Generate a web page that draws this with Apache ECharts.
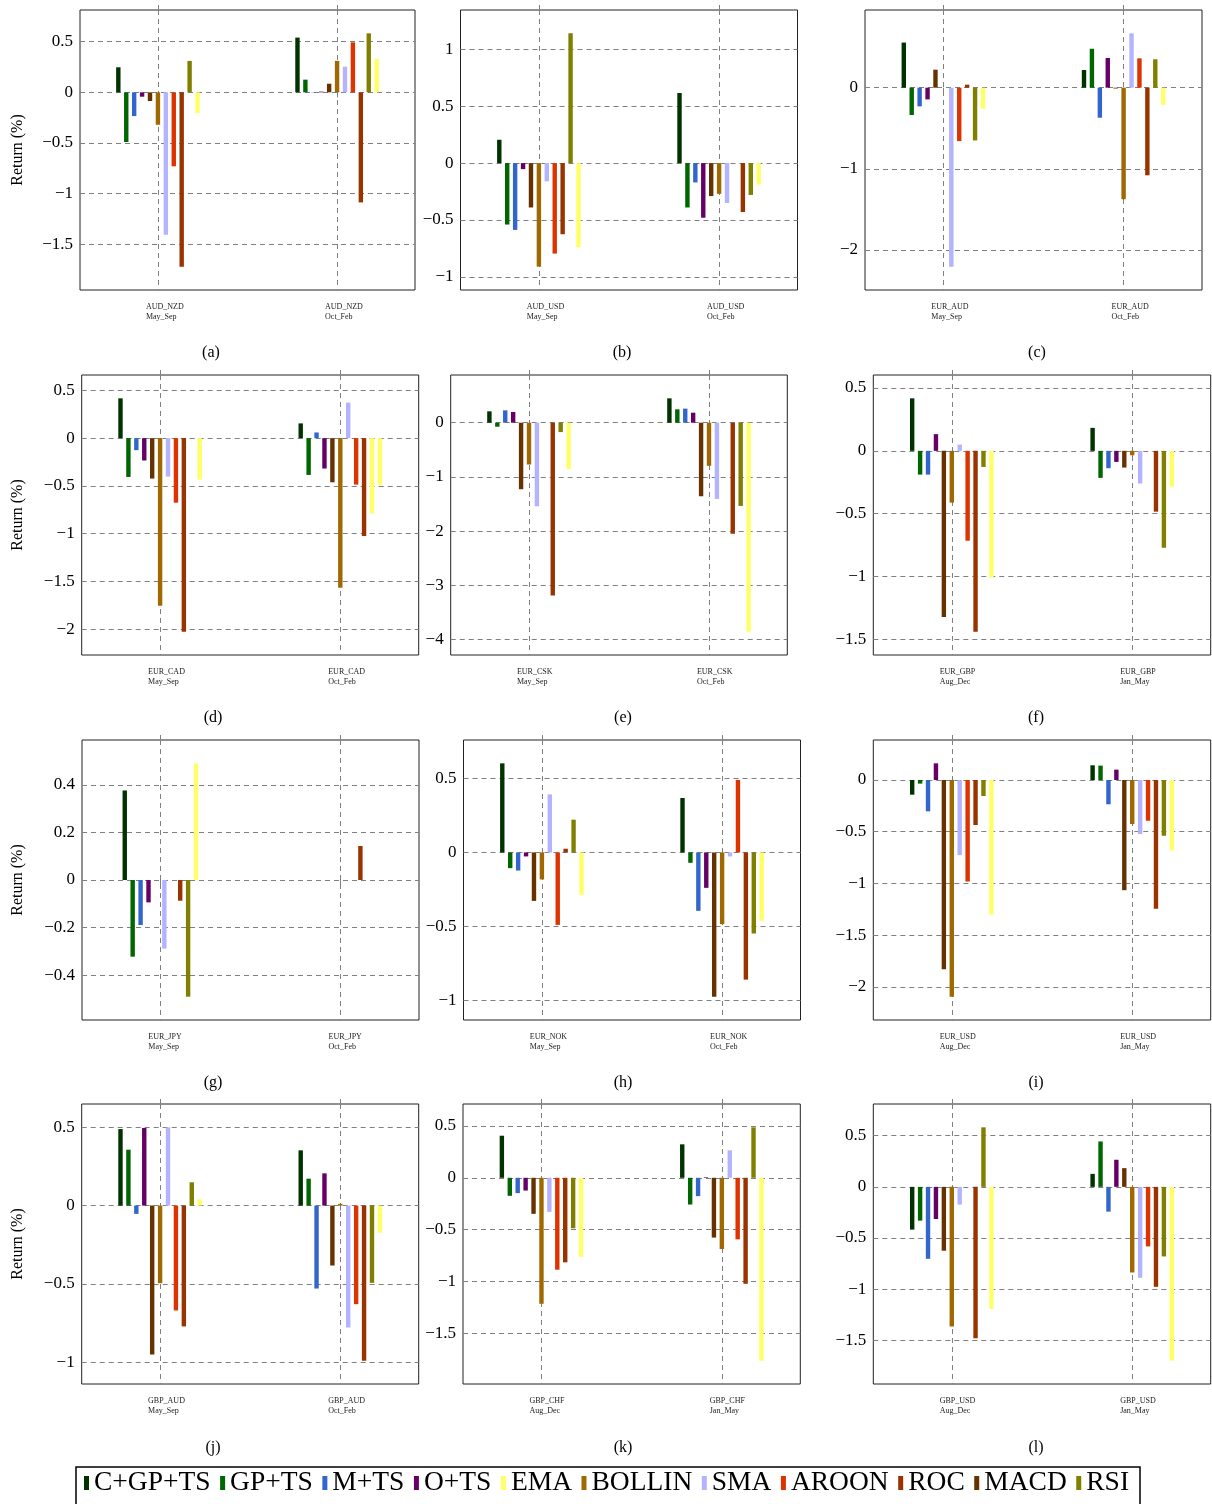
<!DOCTYPE html>
<html><head><meta charset="utf-8">
<script src="https://cdn.jsdelivr.net/npm/echarts@6/dist/echarts.min.js"></script>
<style>html,body{margin:0;padding:0;background:#fff}#c{width:1212px;height:1504px}</style>
</head><body><div id="c"></div><script>
// ---------- data ----------
const pairs = ['AUD_NZD','AUD_USD','EUR_AUD','EUR_CAD','EUR_CSK','EUR_GBP','EUR_JPY','EUR_NOK','EUR_USD','GBP_AUD','GBP_CHF','GBP_USD'];
const periods = [
  ['May_Sep','Oct_Feb'],['May_Sep','Oct_Feb'],['May_Sep','Oct_Feb'],
  ['May_Sep','Oct_Feb'],['May_Sep','Oct_Feb'],['Aug_Dec','Jan_May'],
  ['May_Sep','Oct_Feb'],['May_Sep','Oct_Feb'],['Aug_Dec','Jan_May'],
  ['May_Sep','Oct_Feb'],['Aug_Dec','Jan_May'],['Aug_Dec','Jan_May']
];
const captions = ['(a)','(b)','(c)','(d)','(e)','(f)','(g)','(h)','(i)','(j)','(k)','(l)'];
const yTicks = [
  [0.5,0,-0.5,-1,-1.5],[1,0.5,0,-0.5,-1],[0,-1,-2],
  [0.5,0,-0.5,-1,-1.5,-2],[0,-1,-2,-3,-4],[0.5,0,-0.5,-1,-1.5],
  [0.4,0.2,0,-0.2,-0.4],[0.5,0,-0.5,-1],[0,-0.5,-1,-1.5,-2],
  [0.5,0,-0.5,-1],[0.5,0,-0.5,-1,-1.5],[0.5,0,-0.5,-1,-1.5]
];
// bar order inside each group
const barOrder = ['C+GP+TS','GP+TS','M+TS','O+TS','MACD','BOLLIN','SMA','AROON','ROC','RSI','EMA'];
// legend order
const legendOrder = ['C+GP+TS','GP+TS','M+TS','O+TS','EMA','BOLLIN','SMA','AROON','ROC','MACD','RSI'];

// values per panel (a..l): [first period, second period]
const cgpts = [[0.247,0.54],[0.205,0.616],[0.556,0.218],[0.416,0.154],[0.21,0.45],[0.418,0.183],[0.376,0],[0.601,0.367],[-0.142,0.142],[0.489,0.353],[0.406,0.323],[-0.418,0.127]];
const gpts  = [[-0.49,0.125],[-0.54,-0.39],[-0.337,0.48],[-0.406,-0.385],[-0.074,0.247],[-0.189,-0.215],[-0.322,0],[-0.106,-0.07],[-0.035,0.139],[0.357,0.172],[-0.174,-0.258],[-0.33,0.444]];
const mts   = [[-0.234,-0.003],[-0.587,-0.17],[-0.23,-0.37],[-0.126,0.059],[0.228,0.26],[-0.189,-0.138],[-0.189,0],[-0.122,-0.394],[-0.303,-0.235],[-0.053,-0.53],[-0.148,-0.177],[-0.703,-0.242]];
const ots   = [[-0.043,0.007],[-0.053,-0.48],[-0.144,0.366],[-0.234,-0.318],[0.198,0.185],[0.133,-0.088],[-0.094,0],[-0.027,-0.239],[0.161,0.1],[0.496,0.206],[-0.123,0.006],[-0.314,0.265]];
const macd  = [[-0.086,0.085],[-0.39,-0.29],[0.222,-0.01],[-0.423,-0.462],[-1.228,-1.358],[-1.322,-0.133],[null,null],[-0.327,-0.973],[-1.829,-1.065],[-0.951,-0.383],[-0.348,-0.577],[-0.624,0.183]];
const bollin= [[-0.32,0.31],[-0.91,-0.27],[0,-1.375],[-1.752,-1.566],[-0.772,-0.796],[-0.412,-0.035],[0,0],[-0.182,-0.484],[-2.094,-0.426],[-0.496,0.011],[-1.216,-0.687],[-1.366,-0.837]];
const sma   = [[-1.405,0.253],[-0.16,-0.35],[-2.206,0.67],[-0.402,0.371],[-1.543,-1.407],[0.05,-0.26],[-0.288,0],[0.392,-0.027],[-0.726,-0.523],[0.5,-0.779],[-0.329,0.265],[-0.173,-0.889]];
const aroon = [[-0.73,0.493],[-0.795,0],[-0.658,0.362],[-0.675,-0.486],[0,0],[-0.715,0],[0,0],[-0.489,0.489],[-0.981,-0.394],[-0.67,-0.63],[-0.887,-0.594],[0,-0.582]];
const roc   = [[-1.72,-1.086],[-0.625,-0.43],[0.037,-1.08],[-2.024,-1.024],[-3.19,-2.05],[-1.439,-0.484],[-0.087,0.143],[0.025,-0.858],[-0.435,-1.245],[-0.772,-0.991],[-0.816,-1.023],[-1.48,-0.977]];
const rsi   = [[0.31,0.582],[1.14,-0.28],[-0.65,0.35],[0,-0.787],[-0.173,-1.537],[-0.128,-0.771],[-0.49,0],[0.221,-0.547],[-0.155,-0.539],[0.149,-0.494],[-0.487,0.487],[0.582,-0.68]];
const ema   = [[-0.204,0.332],[-0.74,-0.19],[-0.26,-0.214],[-0.434,-0.493],[-0.858,-3.858],[-1.008,-0.285],[0.49,0],[-0.286,-0.462],[-1.303,-0.681],[0.04,-0.174],[-0.765,-1.765],[-1.193,-1.699]];

const valuesByName = {'C+GP+TS':cgpts,'GP+TS':gpts,'M+TS':mts,'O+TS':ots,'MACD':macd,'BOLLIN':bollin,'SMA':sma,'AROON':aroon,'ROC':roc,'RSI':rsi,'EMA':ema};

// ---------- styles / layout ----------
const colors = {'C+GP+TS':'#003300','GP+TS':'#006600','M+TS':'#3366cc','O+TS':'#660066','MACD':'#663300','BOLLIN':'#a06800','SMA':'#b3b3ff','AROON':'#dd3300','ROC':'#993300','RSI':'#808000','EMA':'#ffff66'};
// one bar drawn in another colour in the original figure (panel d, second group, RSI slot)
const colorOverrides = [{panel:3, name:'RSI', idx:1, color:'#ffff66'}];
const boxes = [
  [80,10,335,280],[460.5,10,337,280],[865,10,337,280],
  [81.7,375,337,280],[450.7,375,336.6,280],[873.3,375,337.4,280],
  [82,740,337,280],[463.5,740,337,280],[873.3,740,337.4,280],
  [81.7,1104,337,280],[463,1104,337.3,280],[873.3,1104,337.4,280]
];
const captionPos = [[211,353],[622,353],[1037,353],[213,718],[623,718],[1036,718],[213,1083],[623,1083],[1036,1083],[213,1448],[623,1448],[1036,1448]];
const FONT = '"Liberation Serif","Times New Roman",serif';
const XMIN = -0.435, XMAX = 1.435;
const LABEL_SHIFT = 0.067; // tick labels start slightly left of the category line, left aligned
const fmtNum = v => String(v).replace('-', '\u2212');

const grids = [], xAxes = [], yAxes = [], series = [], graphics = [];
boxes.forEach((b, p) => {
  grids.push({left:b[0], top:b[1], width:b[2], height:b[3], show:true, borderColor:'#222', borderWidth:1, backgroundColor:'transparent'});
  // y range like pgfplots: data range enlarged by 10%
  let lo = 0, hi = 0;
  barOrder.forEach(n => valuesByName[n][p].forEach(v => { if (v != null) { lo = Math.min(lo, v); hi = Math.max(hi, v); } }));
  const R = hi - lo;
  yAxes.push({
    type:'value', gridIndex:p, min: lo - 0.1*R, max: hi + 0.1*R,
    axisLine:{show:false},
    axisTick:{show:false, customValues: yTicks[p]},
    axisLabel:{customValues: yTicks[p], formatter: fmtNum, fontFamily: FONT, fontSize:17, color:'#000', margin:7},
    splitLine:{show:true, lineStyle:{type:[5,4], color:'#808080', width:1}}
  });
  xAxes.push({
    type:'value', gridIndex:p, position:'bottom', min:XMIN, max:XMAX,
    axisLine:{show:false},
    axisTick:{show:true, inside:false, length:7, customValues:[0,1], lineStyle:{type:[5,4], color:'#808080'}},
    axisLabel:{customValues:[-LABEL_SHIFT, 1-LABEL_SHIFT], align:'left',
      formatter: v => pairs[p] + '\n' + periods[p][Math.round(v + LABEL_SHIFT)],
      fontFamily: FONT, fontSize:8, lineHeight:10, color:'#222', margin:12},
    splitLine:{show:true, lineStyle:{type:[5,4], color:'#808080', width:1}}
  });
  xAxes.push({
    type:'value', gridIndex:p, position:'top', min:XMIN, max:XMAX,
    axisLine:{show:false},
    axisTick:{show:true, inside:false, length:6, customValues:[0,1], lineStyle:{type:[5,4], color:'#808080'}},
    axisLabel:{show:false}, splitLine:{show:false}
  });
  barOrder.forEach(n => {
    const vals = valuesByName[n][p];
    if (vals.every(v => v == null)) return; // series not plotted in this panel
    const data = vals.map((v, i) => {
      const o = colorOverrides.find(c => c.panel === p && c.name === n && c.idx === i);
      const d = {value:[i, v]};
      if (o) d.itemStyle = {color:o.color};
      return d;
    });
    series.push({
      name:n, type:'bar', xAxisIndex:2*p, yAxisIndex:p, data,
      barWidth:4.4, barGap:'80%', itemStyle:{color:colors[n]}, animation:false, silent:true
    });
  });
  graphics.push({type:'text', x:captionPos[p][0], y:captionPos[p][1], style:{text:captions[p], font:'16px ' + FONT, fill:'#000', textAlign:'center', textVerticalAlign:'middle'}});
  if (p % 3 === 0) {
    graphics.push({type:'text', x:18, y:b[1] + b[3]/2, rotation:Math.PI/2, style:{text:'Return (%)', font:'16px ' + FONT, fill:'#000', textAlign:'center', textVerticalAlign:'middle'}});
  }
});
graphics.push({type:'rect', shape:{x:76, y:1467, width:1064, height:60}, style:{fill:'none', stroke:'#000', lineWidth:1.5}});

const chart = echarts.init(document.getElementById('c'), null, {renderer:'canvas'});
chart.setOption({
  animation:false,
  backgroundColor:'#fff',
  grid:grids, xAxis:xAxes, yAxis:yAxes, series,
  legend:{
    data:legendOrder, left:84, top:1469, orient:'horizontal', icon:'rect',
    itemWidth:5, itemHeight:14, itemGap:9.5, selectedMode:false, padding:0,
    textStyle:{fontFamily:FONT, fontSize:27.5, color:'#000'}
  },
  graphic:graphics
});
</script></body></html>
